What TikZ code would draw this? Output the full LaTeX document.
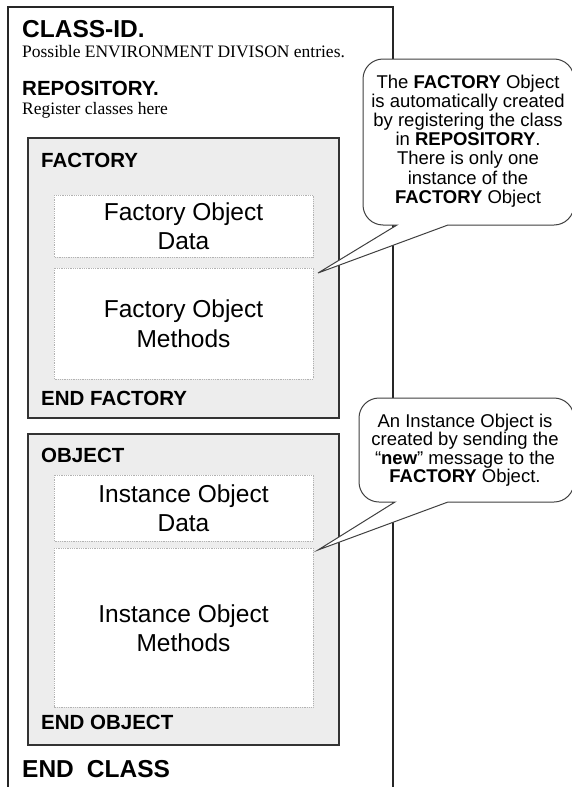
\documentclass[tikz,border=0pt]{standalone}
\usepackage{fontspec}
\setmainfont{Liberation Sans}
\newfontfamily\seriffont{Liberation Serif}
\begin{document}
\begin{tikzpicture}[x=1pt,y=-1pt,
  frame/.style={draw=black!85, line width=1.7pt},
  group/.style={draw=black!80, fill=black!7, line width=1.5pt},
  part/.style={draw=black!30, fill=white, densely dotted, line width=0.8pt},
  callout/.style={draw=black!75, fill=white, line width=1pt},
  lbl/.style={anchor=base west, inner sep=0pt, font=\fontsize{20.5}{24}\selectfont\bfseries},
  big/.style={anchor=base west, inner sep=0pt, font=\fontsize{24.5}{28}\selectfont\bfseries},
  note/.style={anchor=base west, inner sep=0pt, font=\fontsize{17.5}{20}\selectfont\seriffont},
  parttext/.style={anchor=base, inner sep=0pt, font=\fontsize{24.5}{29}\selectfont},
  bubbletext/.style={anchor=base, inner sep=0pt, font=\fontsize{18.5}{19.2}\selectfont}
]
\useasboundingbox (0,0) rectangle (572,787);
\fill[white] (0,0) rectangle (572,787);

% outer class frame (open at the bottom)
\draw[frame] (8,788) -- (8,7) -- (393,7) -- (393,788);

\node[big]  (classid) at (22,37)  {CLASS-ID.};
\node[note] (envnote) at (22,57)  {Possible ENVIRONMENT DIVISON entries.};
\node[lbl]  (repo)    at (22,95.5)  {REPOSITORY.};
\node[note] (regnote) at (22,114) {Register classes here};

% FACTORY block
\draw[group] (28,138) rectangle (339,418);
\node[lbl] (factory) at (41,167) {FACTORY};
\draw[part] (54,195) rectangle (313,257);
\draw[part] (54,268) rectangle (313,379);
\node[parttext] (fdata1) at (183.5,220) {Factory Object};
\node[parttext] (fdata2) at (183.5,249) {Data};
\node[parttext] (fmeth1) at (183.5,317) {Factory Object};
\node[parttext] (fmeth2) at (183.5,347) {Methods};
\node[lbl] (endfactory) at (41,405) {END FACTORY};

% OBJECT block
\draw[group] (28,434) rectangle (339,745);
\node[lbl] (object) at (41,462) {OBJECT};
\draw[part] (54,475) rectangle (313,541);
\draw[part] (54,548) rectangle (313,707);
\node[parttext] (odata1) at (183.5,502) {Instance Object};
\node[parttext] (odata2) at (183.5,531) {Data};
\node[parttext] (ometh1) at (183.5,622) {Instance Object};
\node[parttext] (ometh2) at (183.5,651) {Methods};
\node[lbl] (endobject) at (41,729) {END OBJECT};

\node[big] (endclass) at (22,777) {END\hspace{13pt}CLASS};

% callout 1
\coordinate (tip1) at (318,273);
\draw[callout] (397,225) -- (tip1) -- (448,225)
  {[rounded corners=20pt] -- (574,225) -- (574,59) -- (363,59) -- (363,225)} -- cycle;
\node[bubbletext] (b1a) at (468,88)    {The \textbf{FACTORY} Object};
\node[bubbletext] (b1b) at (468,107.2) {is automatically created};
\node[bubbletext] (b1c) at (468,126.4) {by registering the class};
\node[bubbletext] (b1d) at (468,145.6) {in \textbf{REPOSITORY}.};
\node[bubbletext] (b1e) at (468,164.8) {There is only one};
\node[bubbletext] (b1f) at (468,184)   {instance of the};
\node[bubbletext] (b1g) at (468,203.2) {\textbf{FACTORY} Object};

% callout 2
\coordinate (tip2) at (318,550);
\draw[callout] (395,502) -- (tip2) -- (448,502)
  {[rounded corners=20pt] -- (574,502) -- (574,398) -- (359,398) -- (359,502)} -- cycle;
\node[bubbletext] (b2a) at (465,427) {An Instance Object is};
\node[bubbletext] (b2b) at (465,445.5) {created by sending the};
\node[bubbletext] (b2c) at (465,464) {“\textbf{new}” message to the};
\node[bubbletext] (b2d) at (465,482.5) {\textbf{FACTORY} Object.};
\end{tikzpicture}
\end{document}
